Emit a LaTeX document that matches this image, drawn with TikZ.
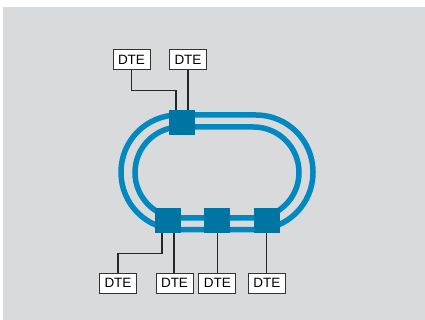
\documentclass[tikz,border=0pt]{standalone}
\usepackage{fontspec}
\setmainfont{Liberation Sans}
\usetikzlibrary{positioning}
\definecolor{ringblue}{HTML}{0088C2}
\definecolor{nodeblue}{HTML}{0074A2}
\definecolor{panel}{HTML}{D9DADC}

\begin{document}
\begin{tikzpicture}[x=1pt, y=-1pt,
    font=\fontsize{13.5}{15}\selectfont,
    dte/.style={draw=black!80, fill=white, line width=1pt,
                minimum width=37pt, minimum height=20pt, inner sep=0pt},
    sw/.style={fill=nodeblue, minimum width=26pt, minimum height=25pt, inner sep=0pt},
    ring/.style={draw=ringblue, line width=5.5pt},
    wire/.style={draw=black!85, line width=1.2pt},
    ]
\useasboundingbox (0,0) rectangle (425,320);
\fill[panel] (3,7) rectangle (425,320);

% double ring
\draw[ring, rounded corners=57pt] (121,115) rectangle (313,229.5);
\draw[ring, rounded corners=45.5pt] (135,127) rectangle (299,218);

% stations on the ring
\node[sw] (s1) at (182,122.5) {};
\node[sw] (s2) at (168,220.5) {};
\node[sw, right=23pt of s2] (s3) {};
\node[sw, right=23pt of s3] (s4) {};

% terminals
\node[dte] (d1) at (131.5,60) {DTE};
\node[dte] (d2) at (188,60) {DTE};
\node[dte] (b1) at (118,283) {DTE};
\node[dte] (b2) at (174.5,283) {DTE};
\node[dte] (b3) at (s3 |- b1) {DTE};
\node[dte] (b4) at (s4 |- b1) {DTE};

\draw[wire] (d1.south) -- ++(0,20) -| ([xshift=-6pt]s1.north);
\draw[wire] (d2.south) -- (d2.south |- s1.north);
\draw[wire] ([xshift=-6pt]s2.south) -- ++(0,20) -| (b1.north);
\draw[wire] ([xshift=6pt]s2.south) -- ([xshift=6pt]s2.south |- b2.north);
\draw[wire] (s3.south) -- (b3.north);
\draw[wire] (s4.south) -- (b4.north);
\end{tikzpicture}
\end{document}
